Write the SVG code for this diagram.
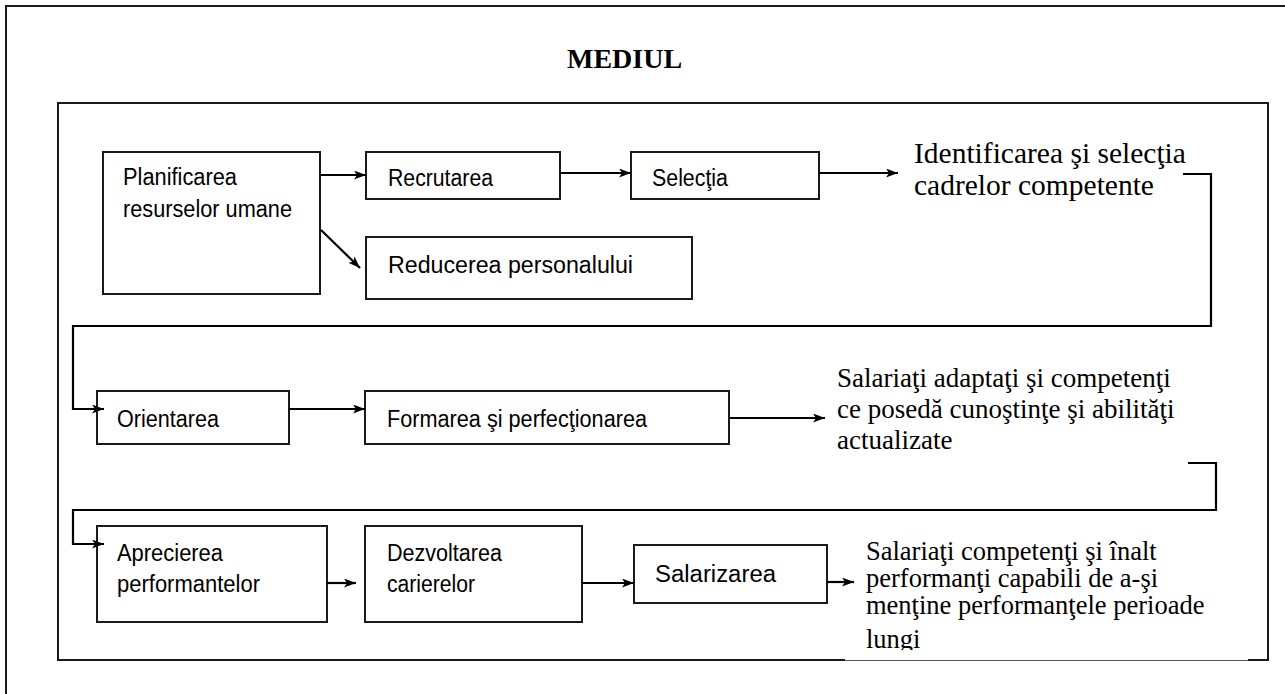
<svg xmlns="http://www.w3.org/2000/svg" width="1285" height="694" viewBox="0 0 1285 694">
  <style>
    .box { fill: #ffffff; stroke: #1a1a1a; stroke-width: 2; }
    .frame { fill: none; stroke: #1a1a1a; stroke-width: 2; }
    .conn { fill: none; stroke: #000000; stroke-width: 2.2; }
    .lbl { font-family: "Liberation Sans", Arial, sans-serif; font-size: 23px; fill: #000000; }
    .out { font-family: "Liberation Serif", "Times New Roman", serif; fill: #000000; }
    .title { font-family: "Liberation Serif", "Times New Roman", serif; font-size: 28px; font-weight: bold; fill: #000000; }
  </style>
  <defs>
    <marker id="arrow" markerUnits="userSpaceOnUse" markerWidth="13" markerHeight="10" refX="12" refY="4.5" orient="auto">
      <path d="M0,0 L12,4.5 L0,9 L3,4.5 z" fill="#000000"/>
    </marker>
    <!-- the last text block is cut off by the frame's lower edge -->
    <clipPath id="clip-bottom">
      <rect x="840" y="520" width="420" height="130"/>
    </clipPath>
  </defs>

  <rect width="1285" height="694" fill="#ffffff"/>

  <!-- outer environment frame (open to the right and bottom) -->
  <path class="frame" d="M1285,6 L6,6 L6,694"/>
  <text class="title" x="567" y="68">MEDIUL</text>

  <!-- inner organisation frame -->
  <path class="frame" d="M845,660 L58,660 L58,103 L1268,103 L1268,660 L1248,660"/>
  <line x1="845" y1="660.5" x2="1248" y2="660.5" stroke="#555555" stroke-width="1"/>

  <g id="planificarea">
    <rect class="box" x="103" y="152" width="217" height="142"/>
    <text class="lbl" x="123" y="185" textLength="114" lengthAdjust="spacingAndGlyphs">Planificarea</text>
    <text class="lbl" x="123" y="217" textLength="169" lengthAdjust="spacingAndGlyphs">resurselor umane</text>
  </g>
  <g id="recrutarea">
    <rect class="box" x="366" y="152" width="194" height="47"/>
    <text class="lbl" x="388" y="186" textLength="105" lengthAdjust="spacingAndGlyphs">Recrutarea</text>
  </g>
  <g id="selectia">
    <rect class="box" x="631" y="152" width="188" height="47"/>
    <text class="lbl" x="652" y="186" textLength="76" lengthAdjust="spacingAndGlyphs">Selecţia</text>
  </g>
  <g id="reducerea">
    <rect class="box" x="366" y="237" width="326" height="62"/>
    <text class="lbl" x="388" y="273" textLength="245" lengthAdjust="spacingAndGlyphs">Reducerea personalului</text>
  </g>
  <g id="identificarea">
    <text class="out" font-size="29.5" x="914" y="163">Identificarea şi selecţia</text>
    <text class="out" font-size="29.5" x="914" y="195">cadrelor competente</text>
  </g>

  <g id="orientarea">
    <rect class="box" x="97" y="391" width="192" height="53"/>
    <text class="lbl" x="117" y="427" textLength="102" lengthAdjust="spacingAndGlyphs">Orientarea</text>
  </g>
  <g id="formarea">
    <rect class="box" x="365" y="391" width="364" height="53"/>
    <text class="lbl" x="387" y="427" textLength="260" lengthAdjust="spacingAndGlyphs">Formarea şi perfecţionarea</text>
  </g>
  <g id="salariati-adaptati">
    <text class="out" font-size="27" x="837" y="387">Salariaţi adaptaţi şi competenţi</text>
    <text class="out" font-size="27" x="837" y="418">ce posedă cunoştinţe şi abilităţi</text>
    <text class="out" font-size="27" x="837" y="449">actualizate</text>
  </g>

  <g id="aprecierea">
    <rect class="box" x="97" y="526" width="230" height="96"/>
    <text class="lbl" x="117" y="561" textLength="106" lengthAdjust="spacingAndGlyphs">Aprecierea</text>
    <text class="lbl" x="117" y="592" textLength="143" lengthAdjust="spacingAndGlyphs">performantelor</text>
  </g>
  <g id="dezvoltarea">
    <rect class="box" x="365" y="526" width="217" height="96"/>
    <text class="lbl" x="387" y="561" textLength="115" lengthAdjust="spacingAndGlyphs">Dezvoltarea</text>
    <text class="lbl" x="387" y="592" textLength="88" lengthAdjust="spacingAndGlyphs">carierelor</text>
  </g>
  <g id="salarizarea">
    <rect class="box" x="634" y="545" width="193" height="58"/>
    <text class="lbl" font-size="26" x="655" y="582" textLength="121" lengthAdjust="spacingAndGlyphs">Salarizarea</text>
  </g>
  <g id="salariati-performanti" clip-path="url(#clip-bottom)">
    <text class="out" font-size="26.5" x="866" y="560">Salariaţi competenţi şi înalt</text>
    <text class="out" font-size="26.5" x="866" y="587">performanţi capabili de a-şi</text>
    <text class="out" font-size="26.5" x="866" y="614">menţine performanţele perioade</text>
    <text class="out" font-size="26.5" x="866" y="648">lungi</text>
  </g>

  <g id="connectors">
    <path class="conn" marker-end="url(#arrow)" d="M320,175 L366,175"/>
    <path class="conn" marker-end="url(#arrow)" d="M560,173 L631,173"/>
    <path class="conn" marker-end="url(#arrow)" d="M819,173 L898,173"/>
    <path class="conn" marker-end="url(#arrow)" d="M321,230 L360,268"/>
    <path class="conn" marker-end="url(#arrow)" d="M1183,174 L1211,174 L1211,326 L73,326 L73,409 L104,409"/>
    <path class="conn" marker-end="url(#arrow)" d="M289,409 L365,409"/>
    <path class="conn" marker-end="url(#arrow)" d="M729,418 L825,418"/>
    <path class="conn" marker-end="url(#arrow)" d="M1188,463 L1216,463 L1216,510 L73,510 L73,544 L104,544"/>
    <path class="conn" marker-end="url(#arrow)" d="M327,583 L356,583"/>
    <path class="conn" marker-end="url(#arrow)" d="M582,583 L634,583"/>
    <path class="conn" marker-end="url(#arrow)" d="M827,582 L854,582"/>
  </g>
</svg>
